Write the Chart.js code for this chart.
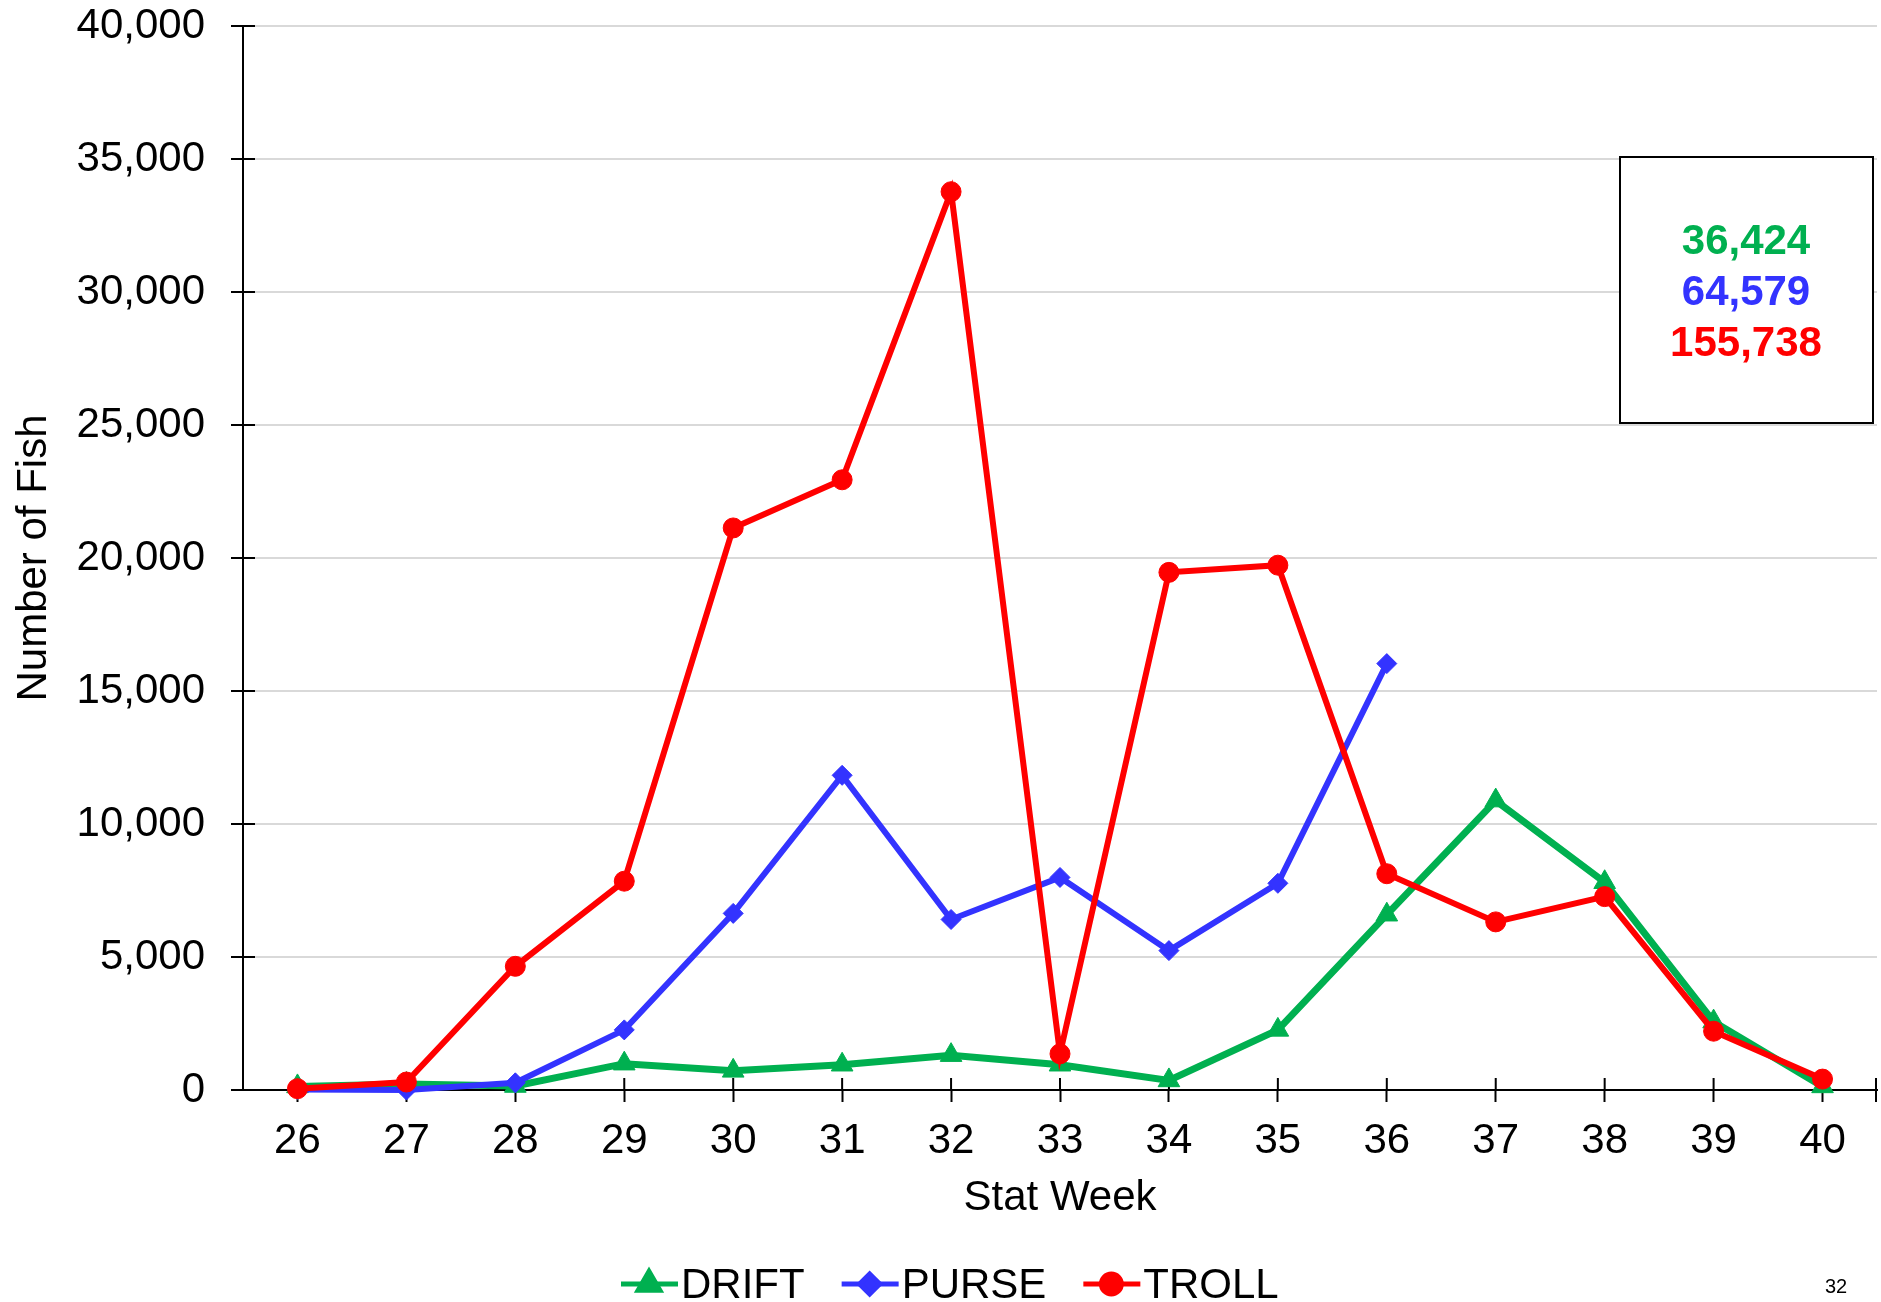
<!DOCTYPE html>
<html>
<head>
<meta charset="utf-8">
<style>
  html, body { margin: 0; padding: 0; background: #fff; }
  #wrap { width: 1881px; height: 1302px; }
</style>
<script src="https://cdn.jsdelivr.net/npm/chart.js@4.4.1/dist/chart.umd.min.js"></script>
</head>
<body>
<div id="wrap"><canvas id="chart" width="1881" height="1302"></canvas></div>
<script>
// --- data ---
const weeks = ['26', '27', '28', '29', '30', '31', '32', '33', '34', '35', '36', '37', '38', '39', '40'];
const drift = [135, 225, 150, 990, 720, 950, 1310, 950, 360, 2260, 6590, 10880, 7810, 2570, 135];
const purse = [20, 0, 270, 2260, 6640, 11830, 6410, 7990, 5240, 7770, 16030, null, null, null, null];
const troll = [50, 300, 4650, 7850, 21130, 22940, 33770, 1360, 19460, 19730, 8130, 6320, 7270, 2210, 410];
const seriesNames = ['DRIFT', 'PURSE', 'TROLL'];
const totals = ['36,424', '64,579', '155,738'];
const yTicks = [0, 5000, 10000, 15000, 20000, 25000, 30000, 35000, 40000];
const pageNo = '32';

const GREEN = '#00B050';
const BLUE = '#3333FF';
const RED = '#FF0000';
const FONT = '"Liberation Sans", Arial, sans-serif';

// ticks in the reference cross the axes, chart.js only draws the outer half
// (drawn before the lines so the markers sit on top)
const crossTicks = {
    id: 'crossTicks',
    beforeDatasetsDraw(chart) {
        const ctx = chart.ctx;
        const area = chart.chartArea;
        const xs = chart.scales.x, ys = chart.scales.y;
        ctx.save();
        ctx.strokeStyle = '#000';
        ctx.lineWidth = 2;
        ctx.beginPath();
        xs.ticks.forEach((t, i) => {
            const px = xs.getPixelForTick(i);
            ctx.moveTo(px, area.bottom);
            ctx.lineTo(px, area.bottom - 12);
        });
        ctx.moveTo(area.right - 1, area.bottom - 12);
        ctx.lineTo(area.right - 1, area.bottom + 12);
        ys.ticks.forEach((t, i) => {
            const py = ys.getPixelForTick(i);
            ctx.moveTo(area.left, py);
            ctx.lineTo(area.left + 12, py);
        });
        ctx.stroke();
        ctx.restore();
    }
};

// legend (line + marker + name), totals box and page number
const extras = {
    id: 'extras',
    afterDraw(chart) {
        const ctx = chart.ctx;
        ctx.save();

        // legend
        ctx.font = '42px ' + FONT;
        ctx.textBaseline = 'middle';
        ctx.textAlign = 'left';
        const ly = 1284;
        let lx = 621;
        chart.data.datasets.forEach(ds => {
            ctx.strokeStyle = ds.borderColor;
            ctx.fillStyle = ds.borderColor;
            ctx.lineWidth = 5;
            ctx.beginPath();
            ctx.moveTo(lx, ly);
            ctx.lineTo(lx + 57, ly);
            ctx.stroke();
            Chart.helpers.drawPoint(ctx, {
                pointStyle: ds.pointStyle, radius: ds.pointRadius, rotation: 0, borderWidth: 1
            }, lx + 28, ly);
            ctx.fillStyle = '#000';
            ctx.fillText(ds.label, lx + 60, ly + 2);
            lx += 60 + ctx.measureText(ds.label).width + 37;
        });

        // totals box
        ctx.fillStyle = '#fff';
        ctx.fillRect(1620, 157, 253, 266);
        ctx.strokeStyle = '#000';
        ctx.lineWidth = 2;
        ctx.strokeRect(1620, 157, 253, 266);
        ctx.font = 'bold 42px ' + FONT;
        ctx.textAlign = 'center';
        const cols = [GREEN, BLUE, RED];
        totals.forEach((t, i) => {
            ctx.fillStyle = cols[i];
            ctx.fillText(t, 1746, 242 + i * 51);
        });

        // page number
        ctx.font = '20px ' + FONT;
        ctx.fillStyle = '#000';
        ctx.fillText(pageNo, 1836, 1287);
        ctx.restore();
    }
};

new Chart(document.getElementById('chart'), {
    type: 'line',
    data: {
        labels: weeks,
        datasets: [
            {
                label: seriesNames[0], data: drift, order: 3,
                borderColor: GREEN, backgroundColor: GREEN, borderWidth: 7,
                pointStyle: 'triangle', pointRadius: 12.5, pointBorderWidth: 1
            },
            {
                label: seriesNames[1], data: purse, order: 2,
                borderColor: BLUE, backgroundColor: BLUE, borderWidth: 6,
                pointStyle: 'rectRot', pointRadius: 10, pointBorderWidth: 1
            },
            {
                label: seriesNames[2], data: troll, order: 1,
                borderColor: RED, backgroundColor: RED, borderWidth: 6,
                pointStyle: 'circle', pointRadius: 10, pointBorderWidth: 1
            }
        ]
    },
    options: {
        responsive: false,
        animation: false,
        devicePixelRatio: 1,
        spanGaps: false,
        clip: false,
        layout: { autoPadding: false, padding: { top: 26, right: 4, bottom: 77, left: 0 } },
        plugins: {
            legend: { display: false },
            tooltip: { enabled: false }
        },
        scales: {
            x: {
                offset: true,
                afterFit: s => { s.height = 135; s.paddingLeft = 0; s.paddingRight = 0; },
                grid: {
                    offset: false, drawOnChartArea: false, drawTicks: true,
                    tickLength: 12, tickColor: '#000', tickWidth: 2
                },
                border: { color: '#000', width: 2 },
                ticks: { color: '#000', padding: 14, font: { family: FONT, size: 42 }, maxRotation: 0 },
                title: {
                    display: true, text: 'Stat Week', color: '#000',
                    font: { family: FONT, size: 42 }, padding: { top: 0, bottom: 1 }
                }
            },
            y: {
                min: 0, max: 40000,
                afterFit: s => { s.width = 243; s.paddingTop = 0; s.paddingBottom = 0; },
                afterBuildTicks: s => { s.ticks = yTicks.map(v => ({ value: v })); },
                grid: {
                    color: c => c.tick && c.tick.value === 0 ? 'rgba(0,0,0,0)' : '#D9D9D9',
                    lineWidth: 2, tickLength: 12, tickColor: '#000', tickWidth: 2
                },
                border: { color: '#000', width: 2 },
                ticks: {
                    color: '#000', padding: 26, font: { family: FONT, size: 42 },
                    callback: v => v.toLocaleString('en-US')
                },
                title: {
                    display: true, text: 'Number of Fish', color: '#000',
                    font: { family: FONT, size: 42 }, padding: { top: 9, bottom: 0 }
                }
            }
        }
    },
    plugins: [crossTicks, extras]
});
</script>
</body>
</html>
